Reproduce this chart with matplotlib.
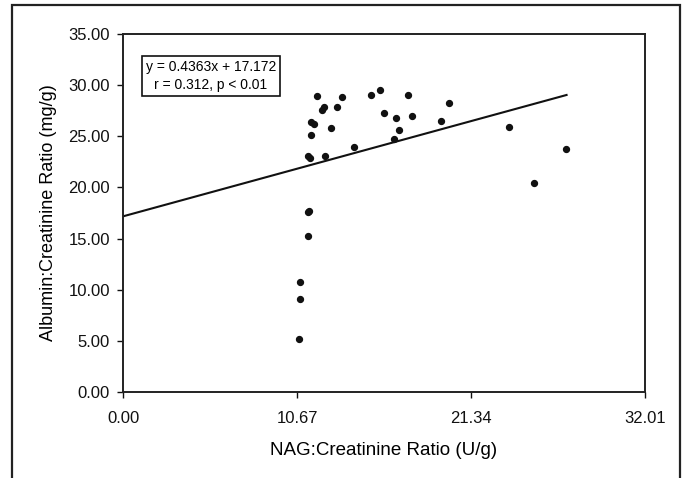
import numpy as np
import matplotlib.pyplot as plt
from matplotlib.patches import Rectangle

plt.rcParams['font.family'] = ['Liberation Sans', 'DejaVu Sans']

# NAG:creatinine (x) and albumin:creatinine (y)
nag = [11.91, 13.43, 15.21, 15.76, 17.49, 19.99, 12.18, 12.32, 13.12, 16.00,
       16.72, 17.72, 19.48, 11.55, 11.69, 11.53, 12.73, 16.94, 16.60, 14.16,
       11.36, 11.47, 12.39, 11.33, 11.39, 11.34, 10.83, 10.83, 10.77, 23.65,
       27.16, 25.20]
alb = [28.94, 28.81, 29.06, 29.55, 29.06, 28.25, 27.57, 27.83, 27.83, 27.30,
       26.75, 26.98, 26.46, 26.39, 26.17, 25.12, 25.78, 25.58, 24.70, 23.95,
       23.07, 22.90, 23.07, 17.55, 17.70, 15.25, 10.78, 9.09, 5.15, 25.93,
       23.78, 20.46]

slope, intercept = 0.4363, 17.172
fit_x = [0.0, 27.2]
x_ticks = [0.00, 10.67, 21.34, 32.01]
y_ticks = [0, 5, 10, 15, 20, 25, 30, 35]

fig = plt.figure(figsize=(6.9, 4.78), dpi=100)
ax = fig.add_axes([123 / 690, 86 / 478, 522 / 690, 358 / 478])

# outer frame round the whole figure (cut off at the bottom)
fig.patches.append(Rectangle((12 / 690, -0.1), 668 / 690, 1.1 - 5 / 478,
                             transform=fig.transFigure, fill=False,
                             edgecolor='#222222', linewidth=1.6))

ax.scatter(nag, alb, s=18, color='#111111', zorder=3)
ax.plot(fit_x, [slope * v + intercept for v in fit_x], color='#111111', linewidth=1.5)

ax.set_xlim(0, 32.01)
ax.set_ylim(0, 35)
ax.set_xticks(x_ticks)
ax.set_xticklabels([f"{v:.2f}" for v in x_ticks])
ax.set_yticks(y_ticks)
ax.set_yticklabels([f"{v:.2f}" for v in y_ticks])
ax.tick_params(direction='out', length=4.5, width=1, labelsize=12, colors='#111111', pad=5)
ax.tick_params(axis='x', pad=9)
for sp in ax.spines.values():
    sp.set_linewidth(1.4)
    sp.set_color('#222222')

ax.set_xlabel("NAG:Creatinine Ratio (U/g)", fontsize=13.5, labelpad=12)
ax.set_ylabel("Albumin:Creatinine Ratio (mg/g)", fontsize=13, labelpad=8)

ax.text(0.1686, 0.883, "y = 0.4363x + 17.172\nr = 0.312, p < 0.01",
        transform=ax.transAxes, fontsize=10, ha='center', va='center',
        linespacing=1.4,
        bbox=dict(boxstyle='square,pad=0.3', facecolor='white',
                  edgecolor='#111111', linewidth=1.2))

fig.savefig("out.png", dpi=100)
